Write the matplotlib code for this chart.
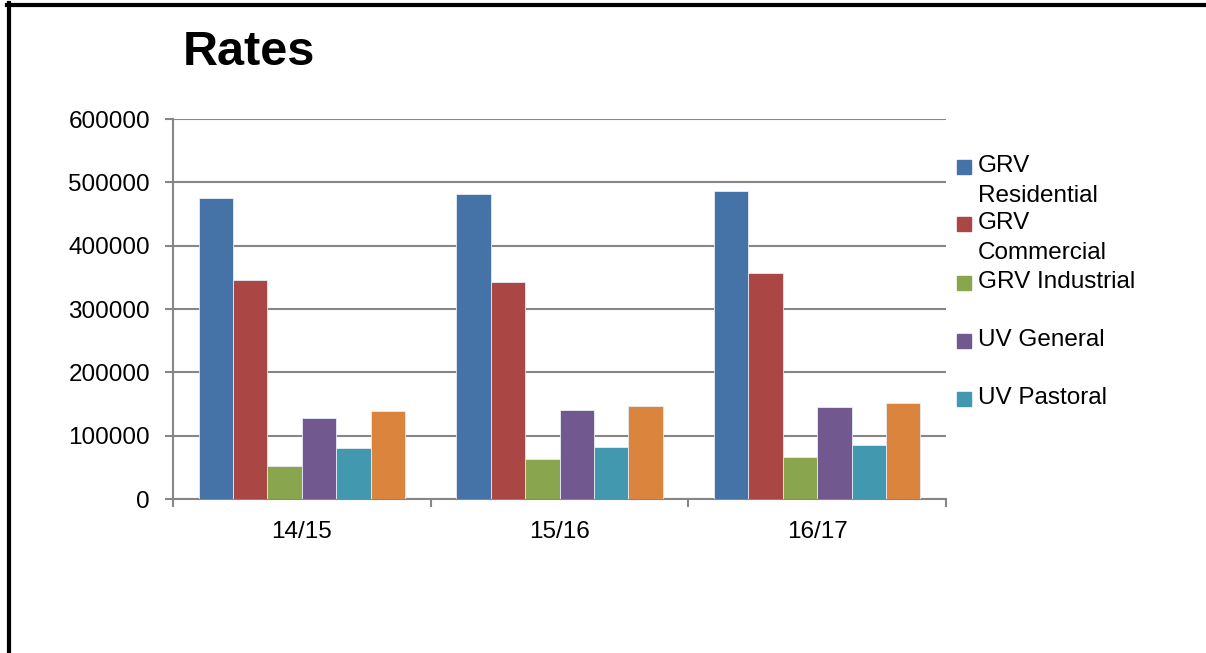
import numpy as np
import matplotlib
matplotlib.use("Agg")
import matplotlib.pyplot as plt
from matplotlib.patches import Rectangle
from matplotlib.lines import Line2D

plt.rcParams['font.family'] = ['Liberation Sans', 'DejaVu Sans']

years = ["14/15", "15/16", "16/17"]
series = ["GRV\nResidential", "GRV\nCommercial", "GRV Industrial",
          "UV General", "UV Pastoral", ""]
grv_res = [475800, 482100, 486300]
grv_com = [345300, 342200, 356400]
grv_ind = [51600, 62700, 66300]
uv_gen = [127400, 141000, 144800]
uv_past = [80100, 81600, 84800]
other = [139000, 146300, 151600]
values = [grv_res, grv_com, grv_ind, uv_gen, uv_past, other]
colors = ["#4572A7", "#AA4643", "#89A54E", "#71588F", "#4198AF", "#DB843D"]

W, H = 1206, 653
fs = 17.5
fig = plt.figure(figsize=(W / 100, H / 100), dpi=100)
ax = fig.add_axes([173 / W, 1 - 499 / H, (946 - 173) / W, (499 - 119) / H])

x = np.arange(len(years))
n = len(values)
bw = 0.8 / n
for i, vals in enumerate(values):
    ax.bar(x - 0.4 + bw * (i + 0.5), vals, width=bw, color=colors[i],
           edgecolor="#e8ecf4", linewidth=0.6, zorder=3)

grey = "#868686"
ax.set_ylim(0, 600000)
ax.set_xlim(-0.5, len(years) - 0.5)
ax.set_yticks(np.arange(0, 600001, 100000))
ax.set_yticklabels([str(v) for v in range(0, 600001, 100000)])
ax.yaxis.grid(True, color=grey, linewidth=1.5, zorder=0)
ax.set_xticks(np.arange(-0.5, len(years), 1.0))
ax.set_xticklabels([])
ax.set_xticks(x, minor=True)
ax.set_xticklabels(years, minor=True)
ax.tick_params(axis="x", which="major", direction="out", length=6,
               width=1.5, color=grey)
ax.tick_params(axis="x", which="minor", length=0, pad=16, labelsize=fs)
ax.tick_params(axis="y", direction="out", length=5.5, width=1.5,
               color=grey, pad=11, labelsize=fs)
for s in ["top", "right"]:
    ax.spines[s].set_visible(False)
for s in ["left", "bottom"]:
    ax.spines[s].set_color(grey)
    ax.spines[s].set_linewidth(1.5)

fig.text(183 / W, 1 - 65 / H, "Rates", fontsize=35, fontweight="bold",
         va="baseline", ha="left")

# legend drawn by hand, orange series has no entry
ys = [166.5, 224, 283, 341, 399]
for i, y in enumerate(ys):
    fig.add_artist(Rectangle((957 / W, 1 - (y + 7) / H), 14 / W, 14 / H,
                             transform=fig.transFigure, color=colors[i]))
    for j, line in enumerate(series[i].split("\n")):
        fig.text(978 / W, 1 - (y - 1 + 30 * j) / H, line, fontsize=fs,
                 va="center", ha="left")

# outer frame
fig.add_artist(Line2D([7 / W, 1], [1 - 4.5 / H, 1 - 4.5 / H],
                      transform=fig.transFigure, color="black", linewidth=3))
fig.add_artist(Line2D([9 / W, 9 / W], [0, 1 - 3 / H],
                      transform=fig.transFigure, color="black", linewidth=3))

fig.savefig("out.png", dpi=100)
